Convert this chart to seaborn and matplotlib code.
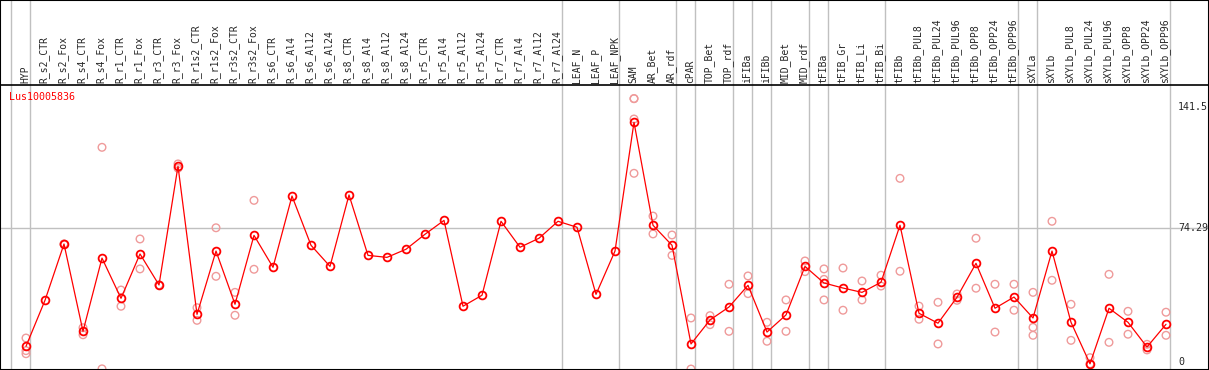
import numpy as np
import pandas as pd
import matplotlib
matplotlib.use("Agg")
import matplotlib.pyplot as plt
import seaborn as sns

# sample names shown in the header
categories = [
    "HYP",
    "R_s2_CTR", "R_s2_Fox", "R_s4_CTR", "R_s4_Fox", "R_r1_CTR", "R_r1_Fox",
    "R_r3_CTR", "R_r3_Fox", "R_r1s2_CTR", "R_r1s2_Fox", "R_r3s2_CTR", "R_r3s2_Fox",
    "R_s6_CTR", "R_s6_Al4", "R_s6_Al12", "R_s6_Al24",
    "R_s8_CTR", "R_s8_Al4", "R_s8_Al12", "R_s8_Al24",
    "R_r5_CTR", "R_r5_Al4", "R_r5_Al12", "R_r5_Al24",
    "R_r7_CTR", "R_r7_Al4", "R_r7_Al12", "R_r7_Al24",
    "LEAF_N", "LEAF_P", "LEAF_NPK",
    "SAM", "AR_Bet", "AR_rdf",
    "cPAR",
    "TOP_Bet", "TOP_rdf",
    "iFIBa",
    "iFIBb",
    "MID_Bet", "MID_rdf",
    "tFIBa",
    "tFIB_Gr", "tFIB_Li", "tFIB_Bi",
    "tFIBb", "tFIBb_PUL8", "tFIBb_PUL24", "tFIBb_PUL96",
    "tFIBb_OPP8", "tFIBb_OPP24", "tFIBb_OPP96",
    "sXYLa",
    "sXYLb", "sXYLb_PUL8", "sXYLb_PUL24", "sXYLb_PUL96",
    "sXYLb_OPP8", "sXYLb_OPP24", "sXYLb_OPP96",
]

# number of samples in each tissue block (grey separators)
group_sizes = [1, 28, 3, 3, 1, 2, 1, 1, 2, 1, 3, 7, 1, 7]

# mean expression per sample
means = [
    8.7, 34.2, 65.4, 17.0, 57.6, 35.3, 59.9, 42.7, 108.6, 26.4,
    61.5, 32.0, 70.2, 52.5, 92.0, 64.7, 53.0, 92.6, 59.1, 58.0,
    62.5, 70.8, 78.5, 30.9, 37.0, 78.0, 63.6, 68.6, 78.0, 74.7,
    37.5, 61.5, 132.9, 75.8, 64.7, 10.0, 23.3, 30.5, 42.5, 16.6,
    26.1, 53.0, 43.8, 41.0, 38.6, 44.2, 75.8, 27.0, 21.5, 35.9,
    54.7, 29.8, 36.0, 24.4, 61.5, 22.0, -1.0, 29.8, 22.0, 8.3,
    20.9,
]

# individual replicates per sample
replicates = [
    [13.3, 6.3, 4.6], [], [65.4, 65.4], [19.0, 15.1], [119.0, -3.8],
    [39.9, 30.9], [68.2, 51.6], [42.7, 42.7], [107.4, 109.8], [30.1, 23.1],
    [74.4, 47.5], [38.6, 25.9], [89.6, 51.4], [], [],
    [], [], [], [], [],
    [], [], [], [], [],
    [], [], [], [], [],
    [], [], [146.0, 146.0, 134.7, 104.6], [80.9, 71.0], [70.4, 59.1],
    [24.4, -3.9], [25.7, 20.7], [43.1, 17.0], [47.7, 37.9], [22.0, 11.5],
    [34.4, 17.0], [56.0, 50.1], [51.6, 45.8, 34.4], [52.1, 28.7], [44.9, 34.4],
    [48.1, 42.1], [101.8, 50.3], [31.0, 23.7], [33.1, 10.0], [37.7, 34.2],
    [68.6, 40.9], [43.1, 16.6], [43.1, 28.7], [38.6, 19.2, 14.8], [78.0, 45.3],
    [32.0, 12.0], [2.4, -1.0], [48.6, 10.9], [28.1, 15.4], [9.8, 6.7],
    [27.6, 14.8],
]

gene = "Lus10005836"
ytick_values = [0, 74.29, 141.5]
ytick_labels = ["0", "74.29", "141.5"]

# build tables
pos = np.arange(len(categories))
mean_df = pd.DataFrame({"pos": pos, "value": means})
rep_df = pd.DataFrame(
    [(i, v) for i, reps in enumerate(replicates) for v in reps],
    columns=["pos", "value"],
)

sns.set_style("white")
plt.rcParams["font.family"] = ["DejaVu Sans Mono", "DejaVu Sans"]

W, H = 1209, 370
fig = plt.figure(figsize=(W / 100, H / 100), dpi=100)
# plot box from pixel row 85 down to the bottom
ax = fig.add_axes([0, 0, 1, 285 / H])

# pixel mapping: first sample at x=26px, 19px per sample; 0 at y=362px, 1.804px/unit
X0, DX = 26, 19
Y0, DY = 362, 1.804
ax.set_xlim((0 - X0) / DX, (W - X0) / DX)
ax.set_ylim((Y0 - H) / DY, (Y0 - 85) / DY)

grid_c = "#c0c0c0"
top_frac = 285 / 285 + 85 / 285  # axes fraction of figure top

# horizontal grid at mid tick
ax.axhline(ytick_values[1], color=grid_c, lw=1, zorder=0)

# group separator lines (run through header)
ends = np.concatenate([[-1], np.cumsum(group_sizes) - 1])
for e in ends:
    ax.axvline(e + 0.23, ymin=0, ymax=top_frac, color=grid_c, lw=1,
               clip_on=False, zorder=0)

# replicates
sns.scatterplot(data=rep_df, x="pos", y="value", ax=ax, marker="o",
                s=30, linewidth=1.0, zorder=2, legend=False)
coll = ax.collections[-1]
coll.set_facecolor("none")
coll.set_edgecolor("#ef9a9a")

# means
sns.lineplot(data=mean_df, x="pos", y="value", ax=ax, color="red", lw=0.9,
             marker="o", markersize=5.6, markerfacecolor="none",
             markeredgecolor="red", markeredgewidth=1.3, zorder=3)

ax.set_xlabel("")
ax.set_ylabel("")
ax.set_xticks([])
ax.set_yticks([])
for s in ["left", "right", "bottom"]:
    ax.spines[s].set_visible(False)
ax.spines["top"].set_color("black")
ax.spines["top"].set_linewidth(1.2)

# header labels
trans = ax.get_xaxis_transform()
for i, name in enumerate(categories):
    ax.text(i - 0.05, 1.007, name, rotation=90, ha="center", va="bottom",
            fontsize=7, transform=trans, clip_on=False)

# right-side value labels
for v, lab in zip(ytick_values, ytick_labels):
    ax.text((1178 - X0) / DX, v, lab, ha="left", va="center", fontsize=7.2)

# gene name
ax.text((9 - X0) / DX, (Y0 - 97) / DY, gene, color="red", ha="left",
        va="center", fontsize=7.2)

# outer frame
fig.add_artist(plt.Rectangle((0, 0), 1, 1, transform=fig.transFigure,
                             fill=False, ec="black", lw=1.5))

fig.savefig("out.png", dpi=100)
